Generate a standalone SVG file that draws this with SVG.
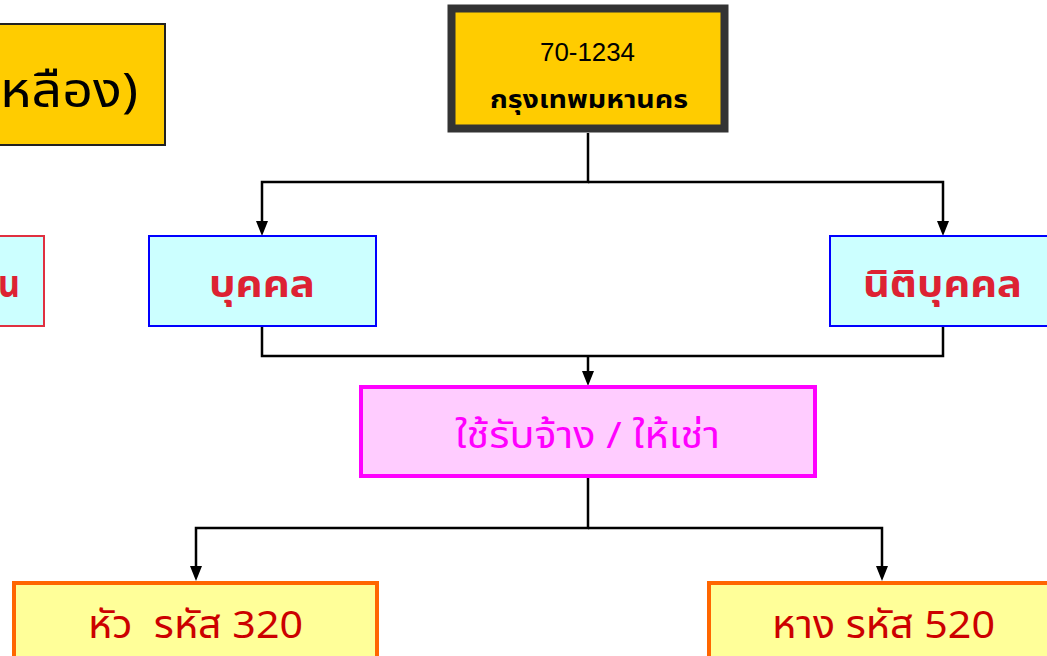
<svg xmlns="http://www.w3.org/2000/svg" width="1047" height="656" viewBox="0 0 1047 656">
<defs>
<style>
.th{font-family:"Noto Sans Thai","Noto Sans","DejaVu Sans",sans-serif;}
.line{fill:none;stroke:#000;stroke-width:2.5;}
.blue{fill:#CCFFFF;stroke:#0000FF;stroke-width:2;}
.red{fill:#DD2233;font-weight:bold;font-size:37px;}
.code{fill:#CC0000;font-size:39px;}
.orange{fill:#FFFF99;stroke:#FF6600;stroke-width:4;}
</style>
</defs>
<rect width="1047" height="656" fill="#fff"/>
<g id="connectors">
<polyline class="line" points="588,133 588,182 262,182 262,224"/>
<polyline class="line" points="588,182 943,182 943,224"/>
<polyline class="line" points="262,326 262,356 943,356 943,326"/>
<polyline class="line" points="588,356 588,375"/>
<polyline class="line" points="588,478 588,528 196,528 196,570"/>
<polyline class="line" points="588,528 882,528 882,570"/>
<path d="M256,221 L268,221 L262,236 z M937,221 L949,221 L943,236 z M582,371 L594,371 L588,386 z M190,566 L202,566 L196,581 z M876,566 L888,566 L882,581 z" fill="#000"/>
</g>
<g id="title-left">
<rect x="-20" y="24" width="185" height="121" fill="#FFCC00" stroke="#222" stroke-width="2"/>
<text class="th" x="0" y="107" font-size="48" textLength="138" lengthAdjust="spacingAndGlyphs" fill="#000">หลือง)</text>
</g>
<g id="left-node">
<rect x="-20" y="236" width="64" height="90" fill="#CCFFFF" stroke="#E03040" stroke-width="2"/>
<text class="th red" x="-2" y="297" textLength="22" lengthAdjust="spacingAndGlyphs">น</text>
</g>
<g id="plate">
<rect x="451.5" y="8.5" width="273" height="120" fill="#FFCC00" stroke="#333" stroke-width="8"/>
<text x="540" y="61" font-family="Liberation Sans, Arial, sans-serif" font-size="26" textLength="95" lengthAdjust="spacingAndGlyphs" fill="#000">70-1234</text>
<text class="th" x="490" y="108" font-size="25" font-weight="bold" textLength="198" lengthAdjust="spacingAndGlyphs" fill="#000">กรุงเทพมหานคร</text>
</g>
<g id="person">
<rect class="blue" x="149" y="236" width="227" height="90"/>
<text class="th red" x="209" y="297" textLength="106" lengthAdjust="spacingAndGlyphs">บุคคล</text>
</g>
<g id="juristic">
<rect class="blue" x="830" y="236" width="230" height="90"/>
<text class="th red" x="863" y="297" textLength="159" lengthAdjust="spacingAndGlyphs">นิติบุคคล</text>
</g>
<g id="hire">
<rect x="361" y="387" width="454" height="89" fill="#FFCCFF" stroke="#FF00FF" stroke-width="4"/>
<text class="th" x="455" y="448" font-size="37" textLength="265" lengthAdjust="spacingAndGlyphs" fill="#FF00FF">ใช้รับจ้าง / ให้เช่า</text>
</g>
<g id="head">
<rect class="orange" x="14" y="583" width="363" height="100"/>
<text class="th code" x="88" y="638" xml:space="preserve" textLength="215" lengthAdjust="spacingAndGlyphs">หัว  รหัส 320</text>
</g>
<g id="tail">
<rect class="orange" x="709" y="583" width="360" height="100"/>
<text class="th code" x="772" y="638" textLength="223" lengthAdjust="spacingAndGlyphs">หาง รหัส 520</text>
</g>
</svg>
